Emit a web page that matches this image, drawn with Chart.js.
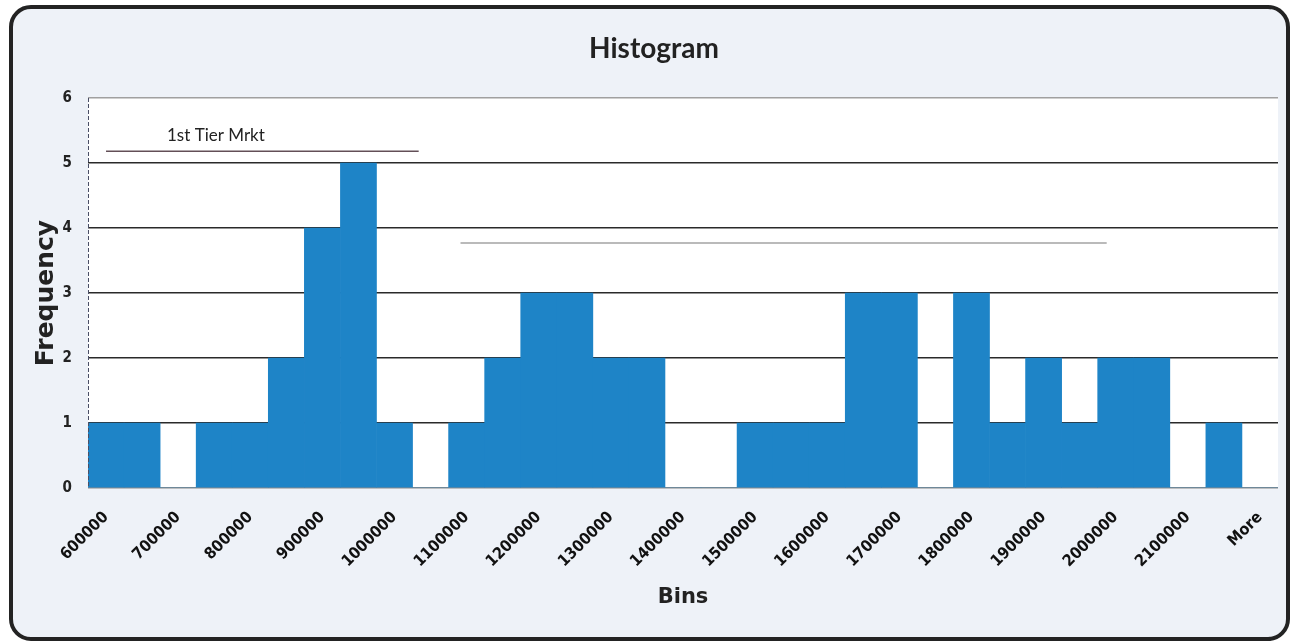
<!DOCTYPE html>
<html>
<head>
<meta charset="utf-8">
<script src="https://cdn.jsdelivr.net/npm/chart.js@4/dist/chart.umd.min.js"></script>
<style>
  html, body { margin: 0; padding: 0; background: #ffffff; }
  body { width: 1292px; height: 644px; position: relative; overflow: hidden; }
  .frame {
    position: absolute; left: 9px; top: 5px; width: 1281px; height: 636px;
    box-sizing: border-box; border: 4px solid #232323; border-radius: 22px;
    background: #eef2f8;
  }
  .wrap { position: absolute; left: 0; top: 0; width: 1292px; height: 644px; }
</style>
</head>
<body>
<div class="frame"></div>
<div class="wrap"><canvas id="hist" width="1292" height="644"></canvas></div>
<script>
// Histogram bins (upper bounds) and counts
const bins = ['600000','650000','700000','750000','800000','850000','900000','950000',
  '1000000','1050000','1100000','1150000','1200000','1250000','1300000','1350000',
  '1400000','1450000','1500000','1550000','1600000','1650000','1700000','1750000',
  '1800000','1850000','1900000','1950000','2000000','2050000','2100000','2150000','More'];
const frequency = [1,1,0,1,1,2,4,5,1,0,1,2,3,3,2,2,0,0,1,1,1,3,3,0,3,1,2,1,2,2,0,1,0];
const yTicks = [0,1,2,3,4,5,6];

const chartTitle = 'Histogram';
const xTitle = 'Bins';
const yTitle = 'Frequency';
const noteText = '1st Tier Mrkt';

// White plot area behind the bars, plus the dashed value-axis line
const plotBackground = {
  id: 'plotBackground',
  beforeDraw(chart) {
    const {ctx, chartArea: a} = chart;
    ctx.save();
    ctx.fillStyle = '#ffffff';
    ctx.fillRect(a.left, a.top, a.right - a.left, a.bottom - a.top);
    ctx.restore();
  },
  afterDatasetsDraw(chart) {
    const {ctx, chartArea: a} = chart;
    ctx.save();
    ctx.strokeStyle = '#4a4f66';
    ctx.lineWidth = 1;
    ctx.setLineDash([4, 2]);
    ctx.beginPath();
    ctx.moveTo(a.left + 0.5, a.top);
    ctx.lineTo(a.left + 0.5, a.bottom);
    ctx.stroke();
    ctx.restore();
  }
};

// Chart heading, set slightly right of the canvas centre
const heading = {
  id: 'heading',
  afterDraw(chart) {
    const {ctx} = chart;
    ctx.save();
    ctx.fillStyle = '#222';
    ctx.font = 'bold 28px Lato, "Open Sans", sans-serif';
    ctx.textAlign = 'center';
    ctx.textBaseline = 'middle';
    ctx.fillText(chartTitle, chart.width / 2 + 8, 49);
    ctx.restore();
  }
};

// Handwritten-style note and rule lines on the plot
const notes = {
  id: 'notes',
  afterDatasetsDraw(chart) {
    const {ctx, scales: {x, y}} = chart;
    ctx.save();
    ctx.lineWidth = 1.4;
    ctx.strokeStyle = 'rgba(60,35,45,0.8)';
    ctx.beginPath();
    ctx.moveTo(x.getPixelForValue(0), y.getPixelForValue(5.18));
    ctx.lineTo(x.getPixelForValue(8.67), y.getPixelForValue(5.18));
    ctx.stroke();
    ctx.strokeStyle = 'rgba(90,90,90,0.55)';
    ctx.beginPath();
    ctx.moveTo(x.getPixelForValue(9.83), y.getPixelForValue(3.77));
    ctx.lineTo(x.getPixelForValue(27.75), y.getPixelForValue(3.77));
    ctx.stroke();
    ctx.fillStyle = '#222';
    ctx.font = '17px Lato, "Open Sans", sans-serif';
    ctx.textAlign = 'left';
    ctx.textBaseline = 'middle';
    ctx.fillText(noteText, x.getPixelForValue(1.69), y.getPixelForValue(5.42));
    ctx.restore();
  }
};

const narrow = '"DejaVu Sans Condensed", "DejaVu Sans", sans-serif';

new Chart(document.getElementById('hist'), {
  type: 'bar',
  data: {
    labels: bins,
    datasets: [{
      label: 'Frequency',
      data: frequency,
      backgroundColor: '#1e84c7',
      borderWidth: 0,
      categoryPercentage: 1.0,
      barPercentage: 1.0
    }]
  },
  options: {
    responsive: false,
    animation: false,
    layout: { padding: { left: 0, right: 14, top: 98, bottom: 0 } },
    plugins: {
      legend: { display: false },
      tooltip: { enabled: false },
      title: { display: false }
    },
    scales: {
      x: {
        grid: { display: false, drawTicks: false },
        border: { display: false },
        ticks: {
          autoSkip: false,
          minRotation: 45,
          maxRotation: 45,
          padding: 20,
          color: '#111',
          font: { family: narrow, size: 16, weight: 'bold' },
          callback: (v, i) => (i % 2 === 0 ? bins[i] : '')
        },
        title: {
          display: true,
          text: xTitle,
          color: '#222',
          font: { family: '"DejaVu Sans", sans-serif', size: 21, weight: 'bold' },
          padding: { top: 0, bottom: 34 }
        },
        afterFit(scale) {
          scale.height = 156;
          scale.paddingLeft = 0;
          scale.paddingRight = 0;
        }
      },
      y: {
        min: 0,
        max: 6,
        afterBuildTicks(scale) { scale.ticks = yTicks.map(v => ({ value: v })); },
        grid: {
          drawTicks: false,
          lineWidth: 1.6,
          color: ctx => (ctx.tick.value === 6 ? '#a0a0a0' : ctx.tick.value === 0 ? '#8a8a8a' : '#2a2a2a')
        },
        border: { display: false },
        ticks: {
          padding: 16,
          color: '#222',
          font: { family: narrow, size: 15, weight: 'bold' }
        },
        title: {
          display: true,
          text: yTitle,
          color: '#222',
          font: { family: '"DejaVu Sans", sans-serif', size: 25, weight: 'bold' },
          padding: { top: 31, bottom: 0 }
        },
        afterFit(scale) { scale.width = 88; }
      }
    }
  },
  plugins: [plotBackground, notes, heading]
});
</script>
</body>
</html>
